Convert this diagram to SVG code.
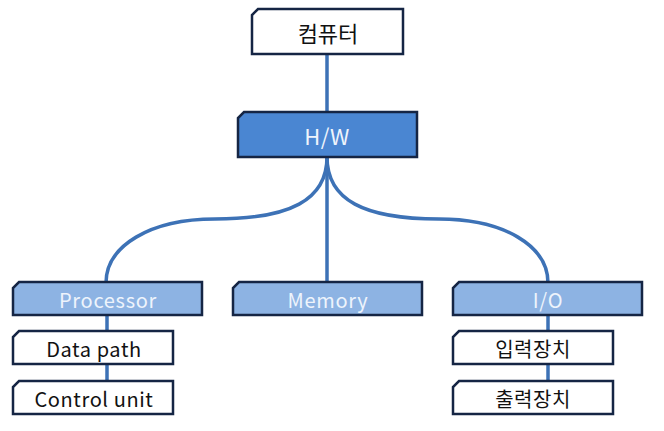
<svg xmlns="http://www.w3.org/2000/svg" width="664" height="431" viewBox="0 0 664 431">
<style>
.box{stroke:#152544;stroke-width:2.5;stroke-linejoin:miter}
.w{fill:#ffffff}
.d{fill:#4a86d2}
.l{fill:#8db3e3}
.t{font-family:"Noto Sans CJK KR","Noto Sans",sans-serif;text-anchor:middle;dominant-baseline:central}
.tb{fill:#111111}
.tw{fill:#eef4fc}
.c{fill:none;stroke:#3d72b6;stroke-width:3.5}
</style>
<rect width="664" height="431" fill="#ffffff"/>
<g id="connectors">
<line class="c" x1="327" y1="54" x2="327" y2="113"/>
<path class="c" d="M327,157 C327,200 290,219 215,219 C150,219 106,246 106,283"/>
<path class="c" d="M327,157 C327,200 364,219 439,219 C504,219 548,246 548,283"/>
<line class="c" x1="327" y1="157" x2="327" y2="283"/>
<line class="c" x1="107" y1="315" x2="107" y2="381"/>
<line class="c" x1="548" y1="315" x2="548" y2="381"/>
</g>
<g id="computer">
<path class="box w" d="M258,9 H403 V54 H252 V15 Z"/>
<text class="t tb" x="328" y="32" font-size="22">컴퓨터</text>
</g>
<g id="hw">
<path class="box d" d="M244,112 H417 V157 H238 V118 Z"/>
<text class="t tw" x="327" y="135" font-size="22" letter-spacing="0.5">H/W</text>
</g>
<g id="processor">
<path class="box l" d="M19,282 H202 V315 H13 V288 Z"/>
<text class="t tw" x="108" y="299" font-size="20" letter-spacing="0.7">Processor</text>
</g>
<g id="datapath">
<path class="box w" d="M19,331 H173 V364 H13 V337 Z"/>
<text class="t tb" x="94" y="348" font-size="20" letter-spacing="0.6">Data path</text>
</g>
<g id="controlunit">
<path class="box w" d="M19,381 H173 V414 H13 V387 Z"/>
<text class="t tb" x="94" y="398" font-size="20" letter-spacing="0.6">Control unit</text>
</g>
<g id="memory">
<path class="box l" d="M239,282 H422 V315 H233 V288 Z"/>
<text class="t tw" x="328" y="299" font-size="20" letter-spacing="0.7">Memory</text>
</g>
<g id="io">
<path class="box l" d="M459,282 H642 V315 H453 V288 Z"/>
<text class="t tw" x="548" y="299" font-size="20" letter-spacing="0.7">I/O</text>
</g>
<g id="input">
<path class="box w" d="M459,331 H613 V364 H453 V337 Z"/>
<text class="t tb" x="533" y="348" font-size="20" letter-spacing="0.5">입력장치</text>
</g>
<g id="output">
<path class="box w" d="M459,381 H613 V414 H453 V387 Z"/>
<text class="t tb" x="533" y="398" font-size="20" letter-spacing="0.5">출력장치</text>
</g>
</svg>
